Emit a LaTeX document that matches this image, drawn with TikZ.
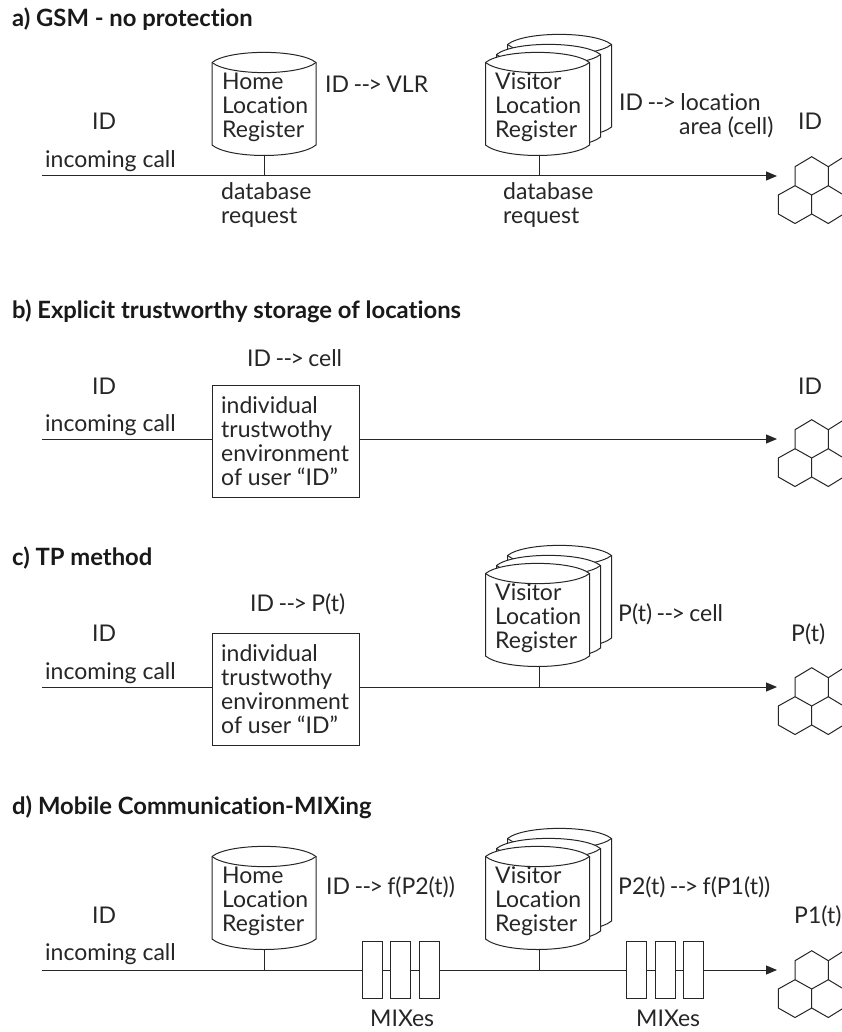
\documentclass[tikz,border=0pt]{standalone}
\usepackage{fontspec}
\setmainfont[Ligatures={NoCommon}]{Lato}
\usetikzlibrary{arrows.meta}
\newcommand{\too}{\kern-1.5pt\mbox{-\kern-0.5pt-\kern-1.5pt>}\kern-1.5pt}
\tikzset{x=1pt,y=-1pt,
 ln/.style={draw=black!85,line width=1pt},
 lab/.style={anchor=west,inner sep=0pt,font=\fontsize{23}{24}\selectfont,text=black!85,align=left},
 ttl/.style={anchor=west,inner sep=0pt,font=\fontsize{23.8}{24}\selectfont\bfseries,text=black!90},
 envbox/.style={ln,fill=white,minimum width=147pt,minimum height=112pt,inner sep=0pt},
 mixbox/.style={ln,fill=white,minimum width=20pt,minimum height=57pt,inner sep=0pt},
 arr/.style={ln,-{Triangle[length=11pt,width=9pt]}}
}
% #1 centre x, #2 connection line y
\newcommand{\onecyl}[2]{%
 \path[ln,fill=white] (#1-52,#2-113.5) -- (#1-52,#2-31)
   .. controls (#1-35,#2-17) and (#1+35,#2-17) .. (#1+52,#2-31) -- (#1+52,#2-113.5)
   .. controls (#1+35,#2-127) and (#1-35,#2-127) .. (#1-52,#2-113.5) -- cycle;
 \path[ln] (#1-52,#2-113.5) .. controls (#1-35,#2-100) and (#1+35,#2-100) .. (#1+52,#2-113.5);
}
\newcommand{\hexes}[2]{%
 \begin{scope}[shift={(0,#2-176)}]
 \path[ln] (795,166.7)--(811.7,156.7)--(828.3,166.7)--(828.3,185.7)--(811.7,195)--(795,185.7)--cycle;
 \path[ln] (795,185.7)--(778.3,195)--(778.3,214)--(795,223.5)--(811.7,214)--(811.7,195);
 \path[ln] (811.7,214)--(828.3,223.5)--(842,215);
 \path[ln] (828.3,185.7)--(842,194);
 \path[ln] (828.3,166.7)--(842,158);
 \end{scope}
 \coordinate (#1) at (777,#2);
}
\begin{document}
\begin{tikzpicture}
\useasboundingbox (0,0) rectangle (842,1032);
\fill[white] (0,0) rectangle (842,1032);
% ---------- a
\node[ttl] (ta) at (12,19) {a) GSM - no protection};
\coordinate (as) at (42,176);
\hexes{ah}{176}
\draw[arr] (as) -- (ah);
\onecyl{264}{176}
\coordinate (ahb) at (264,155); \coordinate (ahl) at (264,176);
\draw[ln] (ahb) -- (ahl);
\onecyl{559.5}{158}\onecyl{548.5}{168}\onecyl{537.5}{176}
\coordinate (avb) at (539.5,155); \coordinate (avl) at (539.5,176);
\draw[ln] (avb) -- (avl);
\node[lab] (a1) at (222,107) {Home\\Location\\Register};
\node[lab] (a2) at (325,84) {ID \too{} VLR};
\node[lab] (a3) at (495,107) {Visitor\\Location\\Register};
\node[lab] (a4) at (619,102) {ID \too{} location};
\node[lab] (a5) at (679,127) {area (cell)};
\node[lab] (a6) at (798,121) {ID};
\node[lab] (a7) at (92,121) {ID};
\node[lab] (a8) at (45,161) {incoming call};
\node[lab] (a9) at (221,205) {database\\request};
\node[lab] (a10) at (503,205) {database\\request};
% ---------- b
\node[ttl] (tb) at (12,311) {b) Explicit trustworthy storage of locations};
\node[lab] (b0) at (247,358) {ID \too{} cell};
\node[lab] (b1) at (92,386) {ID};
\node[lab] (b2) at (45,425) {incoming call};
\node[lab] (b3) at (798,386) {ID};
\node[envbox] (bb) at (285.5,441) {};
\node[lab] (b4) at (221,441) {individual\\trustwothy\\environment\\of user “ID”};
\coordinate (bs) at (42,439);
\hexes{bh}{439}
\draw[ln] (bs) -- (bb.west |- bs);
\draw[arr] (bb.east |- bs) -- (bh);
% ---------- c
\node[ttl] (tc) at (12,558) {c) TP method};
\node[lab] (c0) at (250,604) {ID \too{} P(t)};
\node[lab] (c1) at (92,633) {ID};
\node[lab] (c2) at (45,673) {incoming call};
\node[lab] (c3) at (791,634) {P(t)};
\node[envbox] (cb) at (285.5,689) {};
\node[lab] (c4) at (221,689) {individual\\trustwothy\\environment\\of user “ID”};
\coordinate (cs) at (42,687);
\hexes{ch}{687}
\draw[ln] (cs) -- (cb.west |- cs);
\draw[arr] (cb.east |- cs) -- (ch);
\onecyl{559.5}{669}\onecyl{548.5}{679}\onecyl{537.5}{687}
\coordinate (cvb) at (539.5,666); \coordinate (cvl) at (539.5,687);
\draw[ln] (cvb) -- (cvl);
\node[lab] (c5) at (495,618) {Visitor\\Location\\Register};
\node[lab] (c6) at (618,614) {P(t) \too{} cell};
% ---------- d
\node[ttl] (td) at (12,807) {d) Mobile Communication-MIXing};
\coordinate (ds) at (42,970);
\hexes{dh}{970}
\draw[arr] (ds) -- (dh);
\onecyl{264}{970}
\coordinate (dhb) at (264,949); \coordinate (dhl) at (264,970);
\draw[ln] (dhb) -- (dhl);
\onecyl{559.5}{952}\onecyl{548.5}{962}\onecyl{537.5}{970}
\coordinate (dvb) at (539.5,949); \coordinate (dvl) at (539.5,970);
\draw[ln] (dvb) -- (dvl);
\node[mixbox] (m1) at (372.3,970) {};
\node[mixbox] (m2) at (400.7,970) {};
\node[mixbox] (m3) at (429,970) {};
\node[mixbox] (m4) at (636.8,970) {};
\node[mixbox] (m5) at (665,970) {};
\node[mixbox] (m6) at (693,970) {};
\node[lab] (d1) at (222,901) {Home\\Location\\Register};
\node[lab] (d2) at (326,887) {ID \too{} f(P2(t))};
\node[lab] (d3) at (495,901) {Visitor\\Location\\Register};
\node[lab] (d4) at (618,887) {P2(t) \too{} f(P1(t))};
\node[lab] (d5) at (92,915) {ID};
\node[lab] (d6) at (45,954) {incoming call};
\node[lab] (d7) at (794,916) {P1(t)};
\node[lab] (d8) at (370,1018) {MIXes};
\node[lab] (d9) at (636,1018) {MIXes};
\end{tikzpicture}
\end{document}
